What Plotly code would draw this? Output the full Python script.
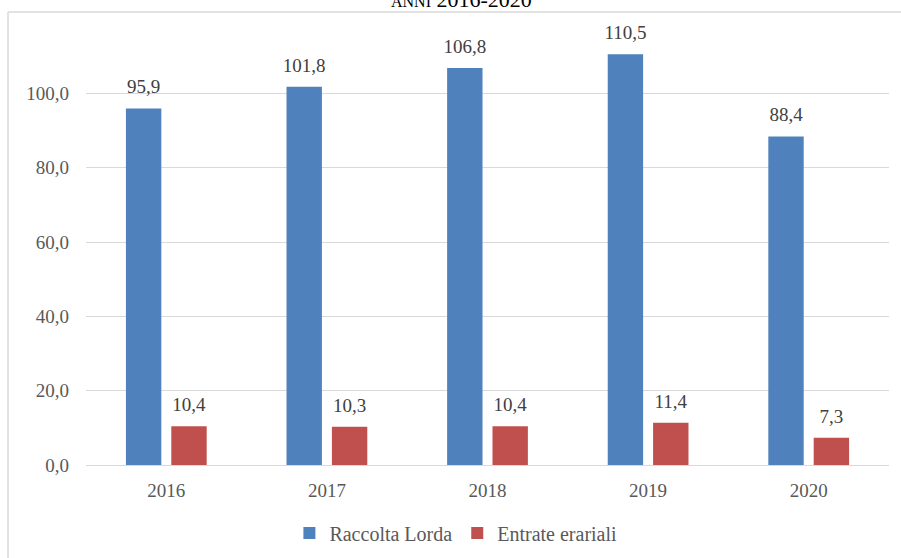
import plotly.graph_objects as go

years = ["2016", "2017", "2018", "2019", "2020"]
raccolta_lorda = [95.9, 101.8, 106.8, 110.5, 88.4]
entrate_erariali = [10.4, 10.3, 10.4, 11.4, 7.3]
y_ticks = [0, 20, 40, 60, 80, 100]
y_tick_labels = ["0,0", "20,0", "40,0", "60,0", "80,0", "100,0"]

def fmt(v):
    return f"{v:.1f}".replace(".", ",")

FONT = "'Liberation Serif', 'Times New Roman', serif"
GRID = "#d9d9d9"
GAP = 0.435

fig = go.Figure()
series = [
    ("Raccolta Lorda", raccolta_lorda, "#4f81bd", "g1"),
    ("Entrate erariali", entrate_erariali, "#c0504d", "g2"),
]
for name, vals, color, grp in series:
    fig.add_trace(go.Bar(
        x=years, y=vals, name=name, offsetgroup=grp,
        marker=dict(color=color, line=dict(width=0)),
    ))
for name, vals, color, grp in series:
    fig.add_trace(go.Scatter(
        x=years, y=vals, offsetgroup=grp, mode="markers+text", showlegend=False,
        text=[fmt(v) for v in vals], textposition="top center",
        marker=dict(size=15, opacity=0, color=color),
        textfont=dict(family=FONT, size=19, color="#404040"), cliponaxis=False,
        hoverinfo="skip",
    ))

fig.update_layout(
    width=901, height=558,
    margin=dict(l=86, r=12, t=19, b=93, autoexpand=False),
    paper_bgcolor="white", plot_bgcolor="white",
    barmode="group", bargap=GAP, bargroupgap=0.22,
    scattermode="group", scattergap=GAP,
    font=dict(family=FONT, size=19, color="#595959"),
    showlegend=True,
    legend=dict(orientation="h", xref="container", yref="container",
                x=0.506, xanchor="center", y=1 - 533 / 558, yanchor="middle",
                font=dict(family=FONT, size=20, color="#595959"),
                itemwidth=30, traceorder="normal"),
    xaxis=dict(showgrid=False, showline=False, ticks="", ticklabelstandoff=12,
               automargin=False,
               tickfont=dict(family=FONT, size=19, color="#595959")),
    yaxis=dict(range=[0, 120], tickvals=y_ticks, ticktext=y_tick_labels,
               showgrid=True, gridcolor=GRID, gridwidth=1, zeroline=True,
               zerolinecolor=GRID, zerolinewidth=1, showline=False, ticks="",
               ticklabelstandoff=16, automargin=False,
               tickfont=dict(family=FONT, size=19, color="#595959")),
    annotations=[dict(
        text="<span style='font-size:16px'>ANNI</span> 2016-2020",
        xref="paper", yref="paper", x=0.467, y=1, xanchor="center", yanchor="bottom",
        yshift=5, showarrow=False, font=dict(family=FONT, size=22, color="#000000"),
    )],
    shapes=[
        dict(type="line", xref="paper", yref="paper", x0=-0.0971, x1=1.03, y0=1.0157, y1=1.0157,
             line=dict(color=GRID, width=1.5)),
        dict(type="line", xref="paper", yref="paper", x0=-0.0971, x1=-0.0971, y0=1.0157, y1=-0.25,
             line=dict(color=GRID, width=1.5)),
    ],
)

fig.write_html("out.html")
